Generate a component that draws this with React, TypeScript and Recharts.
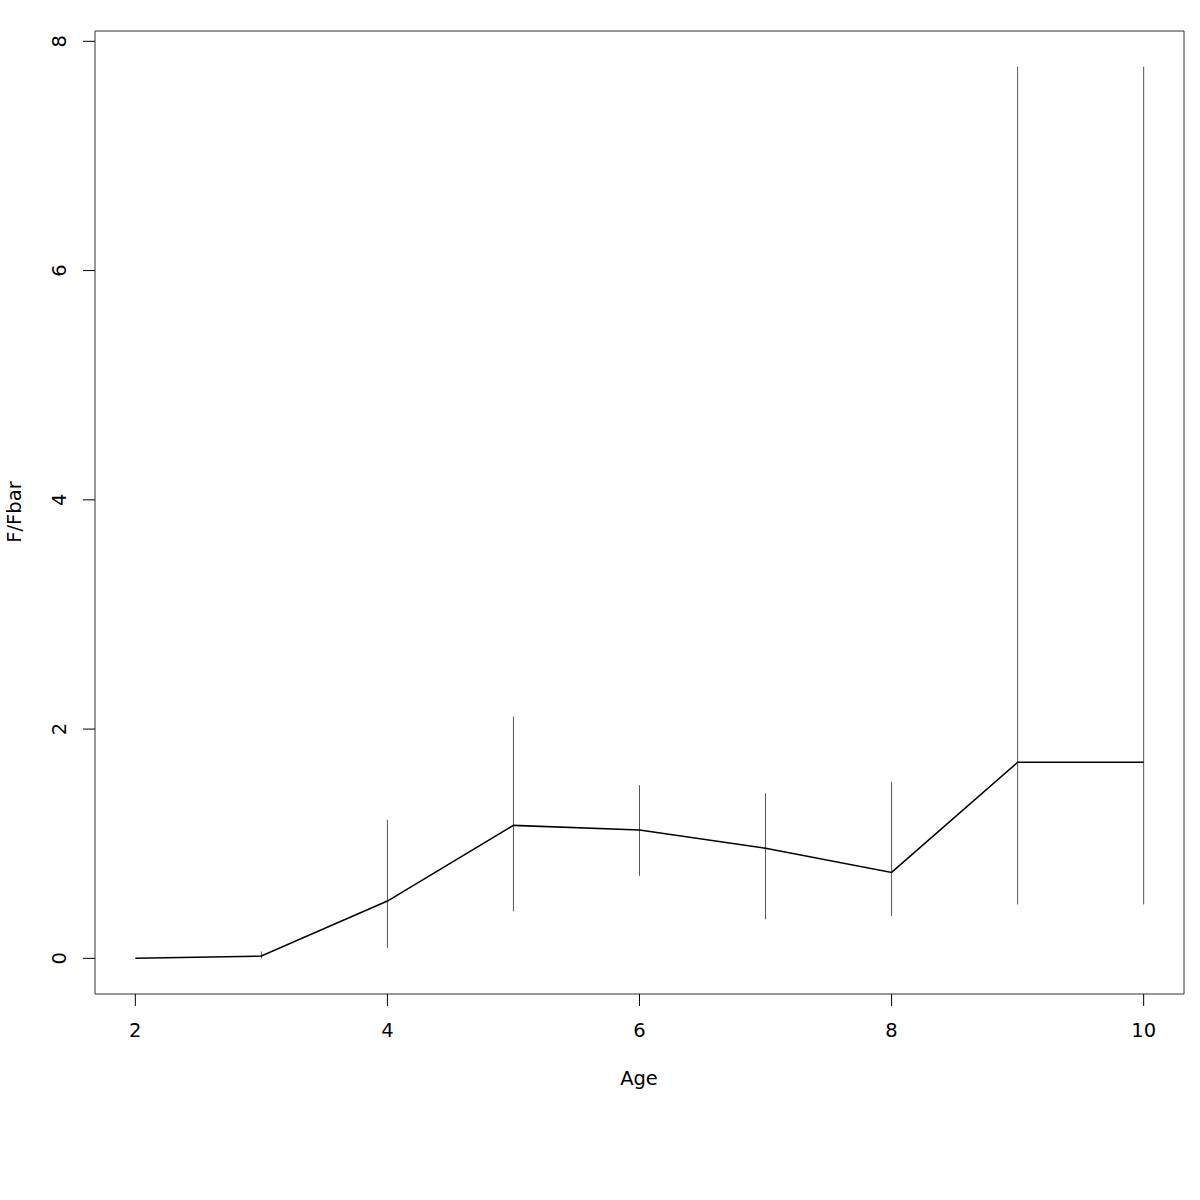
import { ComposedChart, Line, ErrorBar, XAxis, YAxis, ReferenceArea } from 'recharts';

const ages = [2, 3, 4, 5, 6, 7, 8, 9, 10];
const ratio = [0.0, 0.02, 0.5, 1.16, 1.12, 0.96, 0.75, 1.71, 1.71];
const lower = [0.0, 0.0, 0.09, 0.41, 0.72, 0.34, 0.37, 0.47, 0.47];
const upper = [0.0, 0.06, 1.21, 2.11, 1.51, 1.44, 1.54, 7.78, 7.78];

const xTicks = [2, 4, 6, 8, 10];
const yTicks = [0, 2, 4, 6, 8];

const xDomain: [number, number] = [1.68, 10.32];
const yDomain: [number, number] = [-0.311, 8.09];

const data = ages.map((age, i) => ({
  age,
  ratio: ratio[i],
  err: [ratio[i] - lower[i], upper[i] - ratio[i]],
}));

const font = '"DejaVu Sans", sans-serif';
const fs = 19.5;

function YTick({ y, payload }: any) {
  return (
    <text
      x={66}
      y={y}
      transform={`rotate(-90, 66, ${y})`}
      textAnchor="middle"
      fontSize={fs}
      fontFamily={font}
      fill="#000"
    >
      {payload.value}
    </text>
  );
}

export default function App() {
  return (
    <div style={{ position: 'absolute', left: 0, top: 0, background: '#fff' }}>
      <ComposedChart
        width={1200}
        height={1200}
        data={data}
        margin={{ top: 31, right: 16, bottom: 0, left: 0 }}
      >
        <XAxis
          dataKey="age"
          type="number"
          domain={xDomain}
          ticks={xTicks}
          allowDataOverflow
          height={206}
          tickSize={12}
          tickMargin={17}
          axisLine={false}
          tickLine={{ stroke: '#000' }}
          tick={{ fontSize: fs, fontFamily: font, fill: '#000' }}
          label={{
            content: () => (
              <text x={639} y={1085} textAnchor="middle" fontSize={fs} fontFamily={font} fill="#000">
                Age
              </text>
            ),
          }}
        />
        <YAxis
          type="number"
          domain={yDomain}
          ticks={yTicks}
          allowDataOverflow
          width={95}
          tickSize={12}
          axisLine={false}
          tickLine={{ stroke: '#000' }}
          tick={<YTick />}
          label={{
            content: () => (
              <text
                x={21}
                y={512}
                transform="rotate(-90, 21, 512)"
                textAnchor="middle"
                fontSize={fs}
                fontFamily={font}
                fill="#000"
              >
                F/Fbar
              </text>
            ),
          }}
        />
        <ReferenceArea
          x1={xDomain[0]}
          x2={xDomain[1]}
          y1={yDomain[0]}
          y2={yDomain[1]}
          fill="none"
          fillOpacity={0}
          stroke="#333"
          strokeWidth={1}
          ifOverflow="visible"
        />
        <Line
          dataKey="ratio"
          stroke="#000"
          strokeWidth={1.5}
          dot={false}
          activeDot={false}
          isAnimationActive={false}
        >
          <ErrorBar dataKey="err" direction="y" width={0} stroke="#555" strokeWidth={1} isAnimationActive={false} />
        </Line>
      </ComposedChart>
    </div>
  );
}
